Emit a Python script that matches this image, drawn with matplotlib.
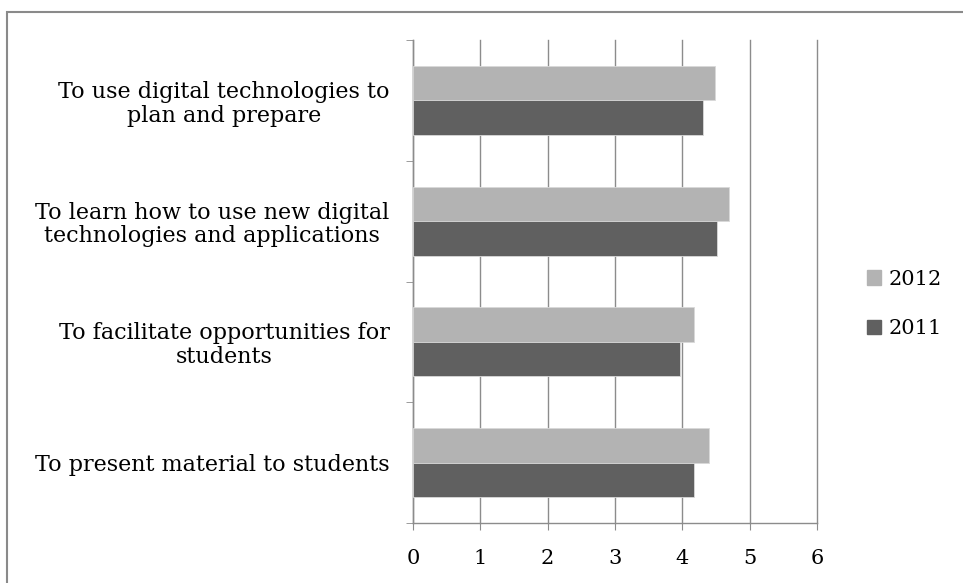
import numpy as np
import matplotlib
matplotlib.use("Agg")
import matplotlib.pyplot as plt
from matplotlib.patches import Rectangle, Patch

categories = [
    "To present material to students",
    "To facilitate opportunities for\nstudents",
    "To learn how to use new digital\ntechnologies and applications",
    "To use digital technologies to\nplan and prepare",
]
vals_2012 = [4.39, 4.18, 4.69, 4.48]
vals_2011 = [4.18, 3.97, 4.52, 4.31]
xticks = [0, 1, 2, 3, 4, 5, 6]

c2012 = "#b3b3b3"
c2011 = "#606060"
grid_c = "#8c8c8c"

plt.rcParams["font.family"] = ["DejaVu Serif"]
fs = 16

fig = plt.figure(figsize=(9.63, 5.83), dpi=100)
# outer chart frame
fig.patches.append(Rectangle((7 / 963, -0.1), 1.1, (583 - 12) / 583 + 0.1,
                             transform=fig.transFigure, fill=False,
                             edgecolor="#8a8a8a", linewidth=1.5))

ax = fig.add_axes([413 / 963, 60 / 583, 404 / 963, 483 / 583])

y = np.arange(len(categories))
h = 0.286
ax.barh(y + h / 2, vals_2012, height=h, color=c2012, edgecolor="#d9d9d9",
        linewidth=0.6, label="2012", zorder=3)
ax.barh(y - h / 2, vals_2011, height=h, color=c2011, edgecolor="#d9d9d9",
        linewidth=0.6, label="2011", zorder=3)

ax.set_xlim(0, 6)
ax.set_ylim(-0.5, len(categories) - 0.5)
ax.set_xticks(xticks)
ax.set_xticklabels([str(t) for t in xticks], fontsize=fs - 1)
ax.set_yticks(y)
ax.set_yticklabels(categories, fontsize=fs)
for lbl in ax.get_yticklabels():
    lbl.set_multialignment("center")
    lbl.set_linespacing(1.1)
ax.set_yticks(np.arange(-0.5, len(categories)), minor=True)
ax.tick_params(axis="y", which="major", length=0, pad=17)
ax.tick_params(axis="y", which="minor", length=5, color=grid_c, direction="out")
ax.tick_params(axis="x", length=5, color=grid_c, direction="out", pad=14)

ax.grid(axis="x", color=grid_c, linewidth=1, zorder=0)
for gl in ax.get_xgridlines():
    gl.set_clip_on(False)
for s in ["top", "right"]:
    ax.spines[s].set_visible(False)
for s in ["left", "bottom"]:
    ax.spines[s].set_color(grid_c)
    ax.spines[s].set_linewidth(1)

handles = [Patch(color=c2012, label="2012"), Patch(color=c2011, label="2011")]
fig.legend(handles=handles, loc="center left", bbox_to_anchor=(848 / 963, 1 - 304 / 583),
           frameon=False, fontsize=fs - 1, handlelength=0.7, handleheight=0.7,
           handletextpad=0.35, labelspacing=1.45)

fig.savefig("out.png", dpi=100)
